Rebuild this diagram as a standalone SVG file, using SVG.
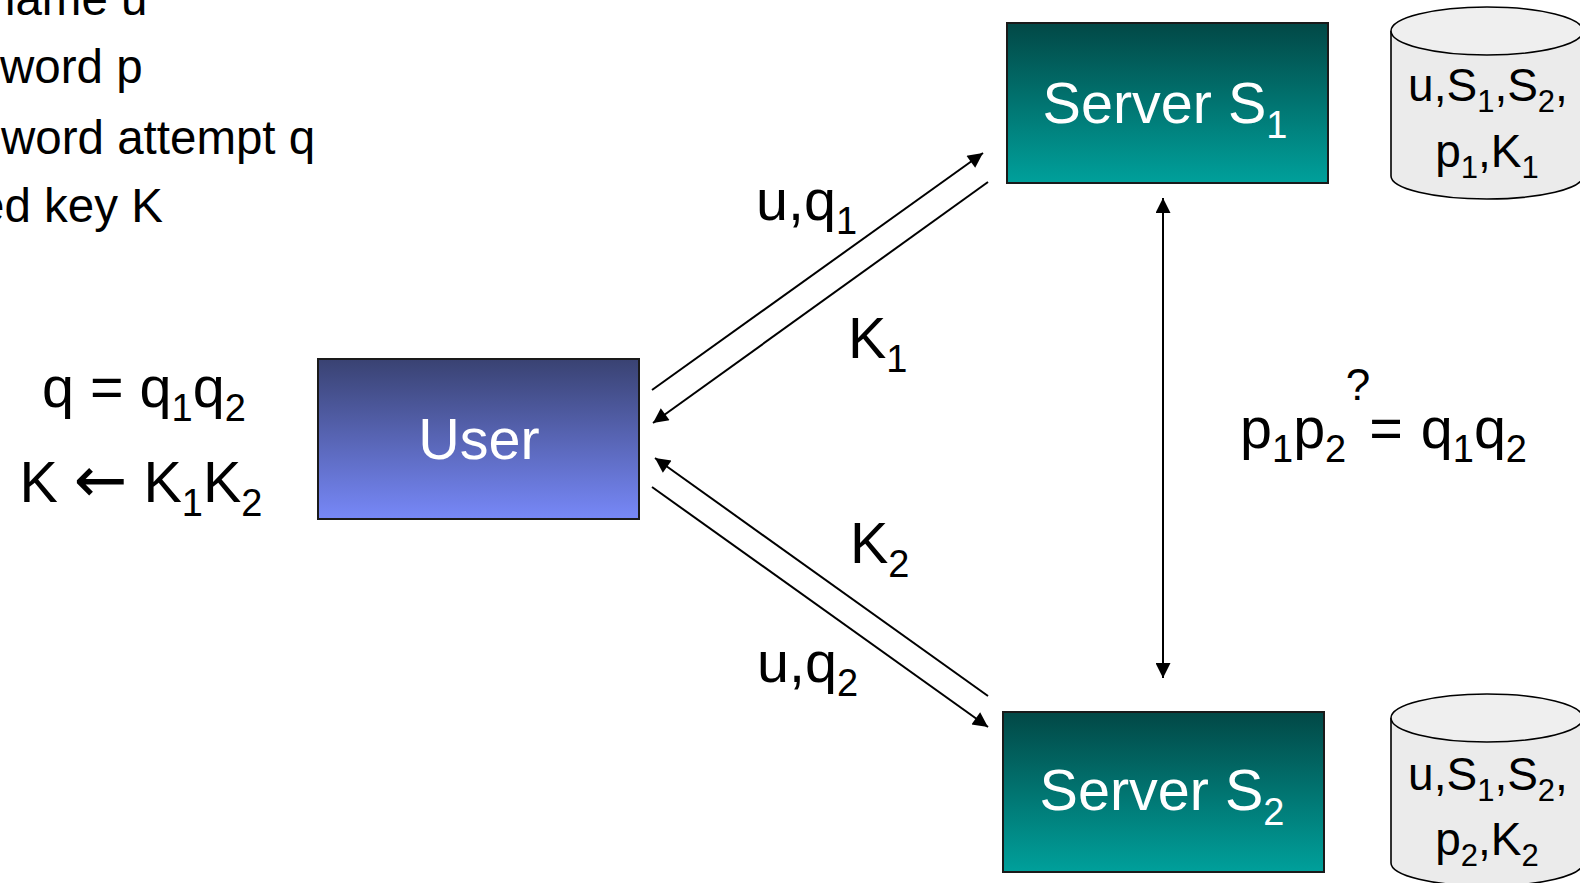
<svg xmlns="http://www.w3.org/2000/svg" width="1580" height="883" viewBox="0 0 1580 883">
  <defs>
    <linearGradient id="gradUser" x1="0" y1="0" x2="0" y2="1">
      <stop offset="0" stop-color="#394272"/>
      <stop offset="1" stop-color="#7788f8"/>
    </linearGradient>
    <linearGradient id="gradServer" x1="0" y1="0" x2="0" y2="1">
      <stop offset="0" stop-color="#024846"/>
      <stop offset="1" stop-color="#00a09b"/>
    </linearGradient>
    <marker id="arrow" viewBox="0 0 10 10" refX="10" refY="5" markerWidth="17" markerHeight="15" markerUnits="userSpaceOnUse" orient="auto-start-reverse">
      <path d="M0,0 L10,5 L0,10 z" fill="#000"/>
    </marker>
    <style>
      text { font-family: "Liberation Sans", Arial, sans-serif; fill: #000; }
      .big { font-size: 57.5px; }
      .note { font-size: 47.5px; }
      .db { font-size: 46px; }
      .sub { font-size: 38px; }
      .subdb { font-size: 31px; }
      .white { fill: #ffffff; }
      .box { stroke: #1a1a1a; stroke-width: 2; }
      .cyl { fill: #ebebeb; stroke: #000; stroke-width: 1.6; }
      .cyltop { fill: #efefef; stroke: #000; stroke-width: 1.6; }
      .conn { stroke: #000; stroke-width: 2; fill: none; }
      .arr { font-family: "DejaVu Sans", sans-serif; font-size: 64px; }
    </style>
  </defs>

  <rect width="1580" height="883" fill="#ffffff"/>

  <!-- legend lines at the top left -->
  <g id="legend">
    <text class="note" x="-11" y="15">name u</text>
    <text class="note" x="0" y="83">word p</text>
    <text class="note" x="1" y="154">word attempt q</text>
    <text class="note" x="-22" y="222">ed key K</text>
  </g>

  <!-- key derivation at the user side -->
  <g id="user-equations">
    <text class="big" x="144" y="407" text-anchor="middle">q = q<tspan class="sub" dy="14">1</tspan><tspan dy="-14">q</tspan><tspan class="sub" dy="14">2</tspan></text>
    <text class="big" x="141" y="502" text-anchor="middle">K <tspan class="arr">←</tspan> K<tspan class="sub" dy="14">1</tspan><tspan dy="-14">K</tspan><tspan class="sub" dy="14">2</tspan></text>
  </g>

  <g id="user">
    <rect class="box" x="318" y="359" width="321" height="160" fill="url(#gradUser)"/>
    <text class="big white" x="479" y="459" text-anchor="middle">User</text>
  </g>

  <g id="server1">
    <rect class="box" x="1007" y="23" width="321" height="160" fill="url(#gradServer)"/>
    <text class="big white" x="1165" y="123" text-anchor="middle">Server S<tspan class="sub" dy="15">1</tspan></text>
  </g>

  <g id="server2">
    <rect class="box" x="1003" y="712" width="321" height="160" fill="url(#gradServer)"/>
    <text class="big white" x="1162" y="810" text-anchor="middle">Server S<tspan class="sub" dy="15">2</tspan></text>
  </g>

  <g id="db1">
    <path class="cyl" d="M1391,31 L1391,176 A96,23 0 0 0 1583,176 L1583,31"/>
    <ellipse class="cyltop" cx="1487" cy="31" rx="96" ry="24"/>
    <text class="db" x="1488" y="101" text-anchor="middle">u,S<tspan class="subdb" dy="11">1</tspan><tspan dy="-11">,S</tspan><tspan class="subdb" dy="11">2</tspan><tspan dy="-11">,</tspan></text>
    <text class="db" x="1487" y="167" text-anchor="middle">p<tspan class="subdb" dy="11">1</tspan><tspan dy="-11">,K</tspan><tspan class="subdb" dy="11">1</tspan></text>
  </g>

  <g id="db2">
    <path class="cyl" d="M1391,718 L1391,863 A96,23 0 0 0 1583,863 L1583,718"/>
    <ellipse class="cyltop" cx="1487" cy="718" rx="96" ry="24"/>
    <text class="db" x="1488" y="790" text-anchor="middle">u,S<tspan class="subdb" dy="11">1</tspan><tspan dy="-11">,S</tspan><tspan class="subdb" dy="11">2</tspan><tspan dy="-11">,</tspan></text>
    <text class="db" x="1487" y="855" text-anchor="middle">p<tspan class="subdb" dy="11">2</tspan><tspan dy="-11">,K</tspan><tspan class="subdb" dy="11">2</tspan></text>
  </g>

  <!-- server-side comparison -->
  <g id="check">
    <text class="big" x="1240" y="448">p<tspan class="sub" dy="14">1</tspan><tspan dy="-14">p</tspan><tspan class="sub" dy="14">2</tspan></text>
    <text class="note" x="1358" y="400" text-anchor="middle" style="font-size:44px">?</text>
    <text class="big" x="1386" y="448" text-anchor="middle">=</text>
    <text class="big" x="1527" y="448" text-anchor="end">q<tspan class="sub" dy="14">1</tspan><tspan dy="-14">q</tspan><tspan class="sub" dy="14">2</tspan></text>
  </g>

  <g id="connectors">
    <line class="conn" x1="652" y1="390" x2="983" y2="153" marker-end="url(#arrow)"/>
    <line class="conn" x1="988" y1="182" x2="653" y2="423" marker-end="url(#arrow)"/>
    <line class="conn" x1="988" y1="696" x2="655" y2="458" marker-end="url(#arrow)"/>
    <line class="conn" x1="652" y1="487" x2="988" y2="727" marker-end="url(#arrow)"/>
    <line class="conn" x1="1163" y1="198" x2="1163" y2="678" marker-start="url(#arrow)" marker-end="url(#arrow)"/>
  </g>

  <g id="labels">
    <text class="big" x="756" y="220">u,q<tspan class="sub" dy="14">1</tspan></text>
    <text class="big" x="848" y="358">K<tspan class="sub" dy="14">1</tspan></text>
    <text class="big" x="850" y="563">K<tspan class="sub" dy="14">2</tspan></text>
    <text class="big" x="757" y="682">u,q<tspan class="sub" dy="14">2</tspan></text>
  </g>
</svg>
